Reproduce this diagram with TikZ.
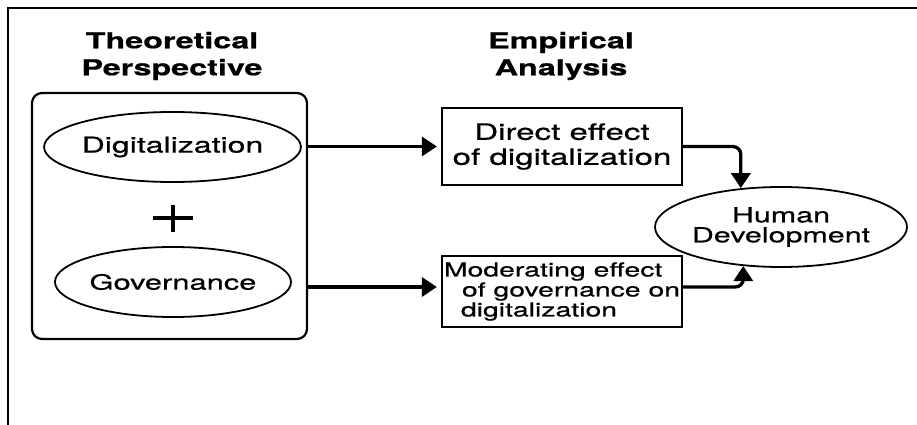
\documentclass[tikz,border=0pt]{standalone}
\usepackage{fontspec}
\setmainfont{TeX Gyre Heros}[FakeStretch=1.47, FakeBold=0.6]
\usetikzlibrary{arrows.meta,shapes.geometric}

\tikzset{
  heading/.style={font=\bfseries\fontsize{22}{27}\selectfont, align=center, inner sep=0pt},
  oval/.style={draw, ellipse, line width=1.8pt, inner sep=0pt},
  effectbox/.style={draw, rectangle, line width=2.2pt, inner sep=0pt},
  flow/.style={line width=3.3pt, -{Triangle[length=15pt,width=19pt]}},
  turn/.style={flow, rounded corners=8pt},
}

\begin{document}
\begin{tikzpicture}[x=1pt, y=-1pt]
\useasboundingbox (0,0) rectangle (917,425);

% frame (top and left edges)
\draw[line width=2.6pt] (8,425) -- (8,8) -- (917,8);

% column headings
\node[heading] (theo) at (172,56) {Theoretical\\Perspective};
\node[heading] (emp)  at (561,56) {Empirical\\Analysis};

% theoretical perspective panel
\node[draw, rounded corners=10pt, line width=2.2pt, minimum width=275pt, minimum height=246pt, inner sep=0pt]
  (panel) at (169.5,216) {};
\node[oval, minimum width=215pt, minimum height=70pt, font=\fontsize{21.8}{24}\selectfont]
  (dig) at (172.5,147) {Digitalization};
\node[oval, minimum width=204pt, minimum height=70pt, font=\fontsize{21}{24}\selectfont]
  (gov) at (173,282) {Governance};
\coordinate (plus) at (173,218);
\draw[line width=3.5pt] ([xshift=-20pt]plus) -- ([xshift=20pt]plus)
                        ([yshift=13.5pt]plus) -- ([yshift=-13.5pt]plus);

% empirical analysis boxes
\node[effectbox, minimum width=240pt, minimum height=77pt, align=center, font=\fontsize{22.5}{25}\selectfont]
  (direct) at (562,146.5) {Direct effect\\of digitalization};
\node[effectbox, minimum width=240pt, minimum height=71pt, align=left, font=\fontsize{19.3}{20}\selectfont]
  (moder) at (562,291.5) {Moderating effect\\\hspace*{18pt}of governance on\\\hspace*{17pt}digitalization};

% outcome
\node[oval, minimum width=202pt, minimum height=80pt, align=center, font=\fontsize{20.7}{20}\selectfont]
  (hd) at (781,227) {Human\\Development};

% connectors
\coordinate (m-in)  at ([yshift=4.5pt]moder.west);
\coordinate (m-out) at ([yshift=4.5pt]moder.east);
\draw[flow, shorten >=4pt] (panel.east |- direct.west) -- (direct.west);
\draw[flow, shorten >=4pt] (panel.east |- m-in) -- (m-in);
\draw[turn] (direct.east) -| (hd.136);
\draw[turn] (m-out) -| (hd.226);
\end{tikzpicture}
\end{document}
